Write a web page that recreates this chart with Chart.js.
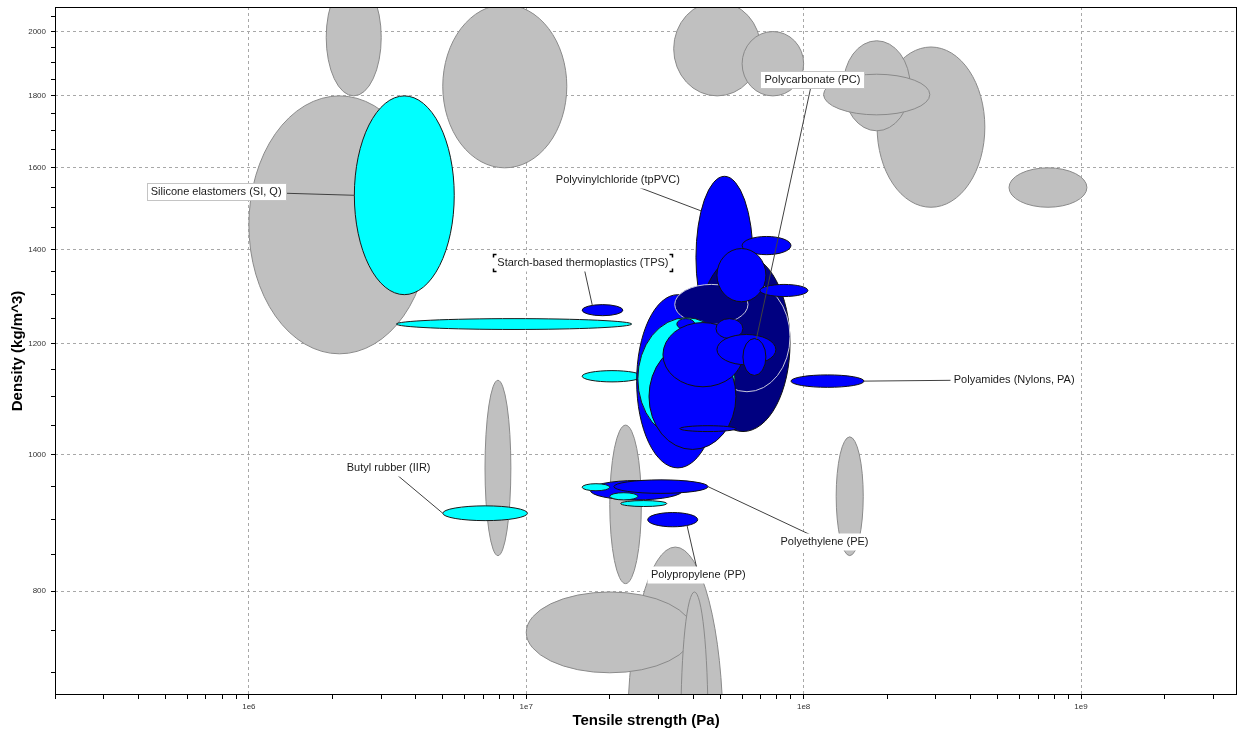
<!DOCTYPE html>
<html>
<head>
<meta charset="utf-8">
<script src="https://cdn.jsdelivr.net/npm/chart.js@4/dist/chart.umd.min.js"></script>
<style>
  html, body { margin: 0; padding: 0; background: #fff; }
  canvas { display: block; }
</style>
</head>
<body>
<canvas id="ashby" width="1241" height="735"></canvas>
<script>
// bubble list, in drawing order (later ones sit on top)
const materials = [
    'Other 1', 'Other 2', 'Other 3', 'Other 4', 'Other 5', 'Other 6', 'Other 7', 'Other 8',
    'Other 9', 'Other 10', 'Other 11', 'Other 12', 'Other 13', 'Other 14', 'Other 15',
    'Polychloroprene (Neoprene, CR)', 'Silicone elastomers (SI, Q)', 'Butyl rubber (IIR)',
    'Acrylonitrile butadiene rubber (NBR)', 'Starch-based thermoplastics (TPS)',
    'Polyvinylchloride (tpPVC)', 'Epoxies (EP)', 'Polyester (UP)', 'Cellulose polymers (CA)',
    'Phenolics (PF)', 'Polyoxymethylene (Acetal, POM)', 'Polyethylene terephthalate (PET)',
    'Polyetheretherketone (PEEK)', 'Polyurethane elastomers (elPU)', 'Polyhydroxyalkanoates (PHA)',
    'Acrylonitrile butadiene styrene (ABS)', 'Polyurethane thermoplastic (tpPUR)', 'Polylactide (PLA)',
    'Polymethyl methacrylate (Acrylic, PMMA)', 'Polycarbonate (PC)', 'Polystyrene (PS)',
    'Polyamides (Nylons, PA)', 'Ionomer (I)', 'Polyethylene (PE)', 'Natural rubber (NR)',
    'Ethylene vinyl acetate (EVA)', 'Polyisoprene rubber (IR)', 'Polypropylene (PP)'
];
const family = [
    'other', 'other', 'other', 'other', 'other', 'other', 'other', 'other',
    'other', 'other', 'other', 'other', 'other', 'other', 'other',
    'elastomer', 'elastomer', 'elastomer', 'elastomer', 'thermoplastic',
    'thermoplastic', 'thermoset', 'thermoset', 'thermoplastic', 'thermoset',
    'thermoplastic', 'thermoplastic', 'thermoplastic', 'elastomer', 'thermoplastic',
    'thermoplastic', 'thermoplastic', 'thermoplastic', 'thermoplastic', 'thermoplastic',
    'thermoplastic', 'thermoplastic', 'thermoplastic', 'thermoplastic', 'elastomer',
    'elastomer', 'elastomer', 'thermoplastic'
];
// tensile strength range (Pa)
const strengthLow = [
    2.32e7, 1.0e7, 3.61e7, 1.9e6, 1.0e6, 5.0e6, 3.4e7, 6.0e7, 1.84e8, 1.39e8, 1.18e8, 5.5e8,
    7.1e6, 2.0e7, 1.31e8,
    3.4e6, 2.4e6, 5.0e6, 1.59e7, 1.59e7, 4.09e7, 4.09e7, 4.37e7, 2.5e7, 3.43e7, 6.0e7, 4.87e7,
    6.96e7, 2.525e7, 3.49e7, 2.77e7, 3.11e7, 4.83e7, 4.87e7, 6.04e7, 3.58e7, 9.0e7, 1.7e7,
    2.07e7, 1.59e7, 2.0e7, 2.19e7, 2.74e7
];
const strengthHigh = [
    5.12e7, 4.0e7, 4.52e7, 3.0e6, 4.5e6, 1.4e7, 7.0e7, 1.0e8, 4.5e8, 2.42e8, 2.85e8, 1.05e9,
    8.8e6, 2.6e7, 1.64e8,
    2.4e7, 5.5e6, 1.01e7, 2.61e7, 2.23e7, 6.57e7, 8.93e7, 8.93e7, 4.95e7, 6.3e7, 9.0e7, 7.31e7,
    1.036e8, 5.65e7, 4.05e7, 5.7e7, 6.04e7, 6.04e7, 7.94e7, 7.31e7, 5.7e7, 1.65e8, 3.67e7,
    4.52e7, 2.0e7, 2.525e7, 3.21e7, 4.15e7
];
// density range (kg/m^3)
const densityLow = [
    471, 700, 522, 1800, 1180, 1600, 1800, 1800, 1500, 1700, 1745, 1500,
    848, 810, 848,
    1228, 1300, 898, 1127, 1256, 1210, 1039, 1109, 979, 1238, 1388, 1285,
    1296, 1025, 1228, 1009, 1118, 1210, 1159, 1139, 1039, 1117, 929,
    939, 943, 929, 919, 889
];
const densityHigh = [
    860, 799, 799, 2180, 1800, 2090, 2100, 2000, 1950, 1970, 1865, 1600,
    1130, 1050, 1030,
    1250, 1800, 920, 1148, 1279, 1578, 1388, 1328, 1300, 1322, 1430, 1402,
    1322, 1252, 1250, 1200, 1242, 1250, 1218, 1210, 1049, 1140, 959,
    960, 954, 940, 928, 910
];

const xMajor = [1e6, 1e7, 1e8, 1e9];
const yMajor = [800, 1000, 1200, 1400, 1600, 1800, 2000];

// styling
const fills = { other: '#c0c0c0', elastomer: '#00ffff', thermoplastic: '#0000ff', thermoset: '#000080' };
const edges = { other: '#8a8a8a', elastomer: '#1a1a1a', thermoplastic: '#111111', thermoset: '#111111' };
const paleEdge = ['Polyester (UP)', 'Phenolics (PF)'];

// callouts: label centre in data units, point on the bubble as an angle
const callouts = [
    { name: 'Silicone elastomers (SI, Q)', at: [7.62e5, 1540], angle: 180, border: true },
    { name: 'Starch-based thermoplastics (TPS)', at: [1.60e7, 1370], angle: 240, brackets: true },
    { name: 'Polyvinylchloride (tpPVC)', at: [2.14e7, 1570], angle: 215 },
    { name: 'Polycarbonate (PC)', at: [1.076e8, 1849], angle: 280, border: true },
    { name: 'Polyamides (Nylons, PA)', at: [5.74e8, 1131], angle: 0 },
    { name: 'Butyl rubber (IIR)', at: [3.19e6, 979], angle: 180 },
    { name: 'Polyethylene (PE)', at: [1.189e8, 868], angle: 0 },
    { name: 'Polypropylene (PP)', at: [4.17e7, 822], angle: 55 }
];

function bubble(chart, i) {
    const { x, y } = chart.scales;
    const x0 = x.getPixelForValue(strengthLow[i]), x1 = x.getPixelForValue(strengthHigh[i]);
    const y0 = y.getPixelForValue(densityLow[i]), y1 = y.getPixelForValue(densityHigh[i]);
    return { cx: (x0 + x1) / 2, cy: (y0 + y1) / 2, rx: Math.abs(x1 - x0) / 2, ry: Math.abs(y1 - y0) / 2 };
}

const bubblePlugin = {
    id: 'bubbles',
    beforeDatasetsDraw(chart) {
        const { ctx, chartArea: a } = chart;
        ctx.save();
        ctx.beginPath();
        ctx.rect(a.left, a.top, a.right - a.left, a.bottom - a.top);
        ctx.clip();
        materials.forEach((name, i) => {
            const b = bubble(chart, i);
            ctx.beginPath();
            ctx.ellipse(b.cx, b.cy, b.rx, b.ry, 0, 0, Math.PI * 2);
            ctx.fillStyle = fills[family[i]];
            ctx.fill();
            ctx.lineWidth = 1;
            ctx.strokeStyle = paleEdge.includes(name) ? '#c8c8dc' : edges[family[i]];
            ctx.stroke();
        });
        ctx.restore();
    },
    afterDatasetsDraw(chart) {
        const { ctx, chartArea: a, scales: { x, y } } = chart;
        ctx.save();
        ctx.font = '11px "Liberation Sans", Arial, sans-serif';
        callouts.forEach(c => {
            const b = bubble(chart, materials.indexOf(c.name));
            const t = c.angle * Math.PI / 180;
            const tx = b.cx + b.rx * Math.cos(t), ty = b.cy + b.ry * Math.sin(t);
            const lx = x.getPixelForValue(c.at[0]), ly = y.getPixelForValue(c.at[1]);
            const w = Math.round(ctx.measureText(c.name).width) + 8, h = 17;
            const bx = Math.round(lx - w / 2) + 0.5, by = Math.round(ly - h / 2) + 0.5;

            ctx.strokeStyle = '#404040';
            ctx.lineWidth = 1;
            ctx.beginPath();
            ctx.moveTo(lx, ly);
            ctx.lineTo(tx, ty);
            ctx.stroke();

            ctx.fillStyle = '#fff';
            ctx.fillRect(bx, by, w, h);
            if (c.border) {
                ctx.strokeStyle = '#c4c4c4';
                ctx.strokeRect(bx, by, w, h);
            }
            if (c.brackets) {
                ctx.strokeStyle = '#000';
                ctx.lineWidth = 1.5;
                const k = 3;
                [[bx, by, 1, 1], [bx + w, by, -1, 1], [bx, by + h, 1, -1], [bx + w, by + h, -1, -1]].forEach(([px, py, sx, sy]) => {
                    ctx.beginPath();
                    ctx.moveTo(px + sx * k, py);
                    ctx.lineTo(px, py);
                    ctx.lineTo(px, py + sy * k);
                    ctx.stroke();
                });
                ctx.lineWidth = 1;
            }
            ctx.fillStyle = '#1a1a1a';
            ctx.textAlign = 'center';
            ctx.textBaseline = 'middle';
            ctx.fillText(c.name, lx, ly + 0.5);
        });

        // plot frame
        ctx.strokeStyle = '#000';
        ctx.lineWidth = 1;
        ctx.strokeRect(Math.round(a.left) + 0.5, Math.round(a.top) + 0.5,
            Math.round(a.right - a.left) - 1, Math.round(a.bottom - a.top) - 1);
        ctx.restore();
    }
};

function logTicks(min, max, steps, majors) {
    const out = [];
    steps.forEach(v => {
        if (v >= min && v <= max) out.push({ value: v, major: majors.includes(v) });
    });
    return out;
}

const xSteps = [];
for (let e = 5; e <= 9; e++) {
    for (let m = 1; m <= 9; m++) xSteps.push(m * Math.pow(10, e));
}
const ySteps = [];
for (let v = 700; v <= 2050; v += 50) ySteps.push(v);

Chart.defaults.font.family = '"Liberation Sans", Arial, sans-serif';
Chart.defaults.color = '#333';

const ctx = document.getElementById('ashby').getContext('2d');
new Chart(ctx, {
    type: 'scatter',
    data: { datasets: [] },
    options: {
        responsive: false,
        animation: false,
        devicePixelRatio: 1,
        layout: { padding: { top: 7, right: 4, left: 0, bottom: 0 } },
        plugins: { legend: { display: false }, tooltip: { enabled: false } },
        scales: {
            x: {
                type: 'logarithmic',
                min: 2e5,
                max: 3.65e9,
                bounds: 'data',
                afterBuildTicks: scale => { scale.ticks = logTicks(2e5, 3.65e9, xSteps, xMajor); },
                afterFit: scale => {
                    scale.height = 40;
                    scale.paddingLeft = 0;
                    scale.paddingRight = 0;
                },
                grid: {
                    color: c => (c.tick && c.tick.major ? '#a8a8a8' : 'rgba(0,0,0,0)'),
                    tickColor: '#000',
                    tickLength: 4
                },
                border: { display: false, dash: [3, 3] },
                ticks: {
                    autoSkip: false,
                    maxRotation: 0,
                    padding: 3,
                    font: { size: 8 },
                    callback: (v, i, ticks) => (ticks[i].major ? '1e' + Math.round(Math.log10(v)) : '')
                },
                title: {
                    display: true,
                    text: 'Tensile strength (Pa)',
                    color: '#000',
                    font: { size: 15, weight: 'bold' },
                    padding: { top: 0, bottom: 5 }
                }
            },
            y: {
                type: 'logarithmic',
                min: 675,
                max: 2082,
                bounds: 'data',
                afterBuildTicks: scale => { scale.ticks = logTicks(675, 2082, ySteps, yMajor); },
                afterFit: scale => {
                    scale.width = 55;
                    scale.paddingTop = 0;
                    scale.paddingBottom = 0;
                },
                grid: {
                    color: c => (c.tick && c.tick.major ? '#a8a8a8' : 'rgba(0,0,0,0)'),
                    tickColor: '#000',
                    tickLength: 4
                },
                border: { display: false, dash: [3, 3] },
                ticks: {
                    autoSkip: false,
                    padding: 5,
                    font: { size: 8 },
                    callback: (v, i, ticks) => (ticks[i].major ? String(v) : '')
                },
                title: {
                    display: true,
                    text: 'Density (kg/m^3)',
                    color: '#000',
                    font: { size: 15, weight: 'bold' },
                    padding: { top: 9, bottom: 0 }
                }
            }
        }
    },
    plugins: [bubblePlugin]
});
</script>
</body>
</html>
